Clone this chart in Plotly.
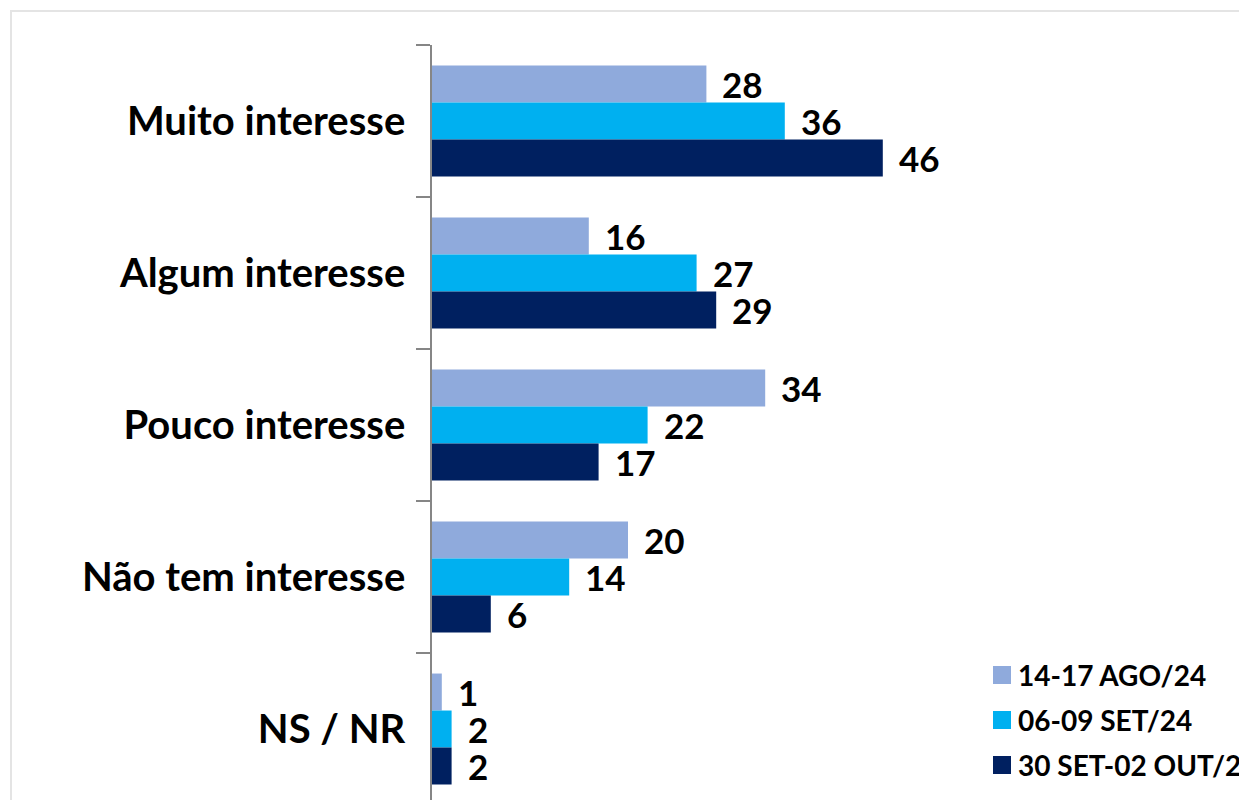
import plotly.graph_objects as go

categories = ["Muito interesse", "Algum interesse", "Pouco interesse", "Não tem interesse", "NS / NR"]
series_names = ["14-17 AGO/24", "06-09 SET/24", "30 SET-02 OUT/24"]
ago_values = [28, 16, 34, 20, 1]
set_values = [36, 27, 22, 14, 2]
out_values = [46, 29, 17, 6, 2]
colors = ["#8FAADC", "#00B0F0", "#002060"]

all_values = [ago_values, set_values, out_values]
FONT = "Lato"

# page body has an 8px margin, so everything is placed 8px up/left
OFF = 8
# plot area in pixels (figure coordinates)
L, T, W, H = 432 - OFF, 45 - OFF, 784, 755


def px_x(p):
    return (p - OFF - L) / W


def px_y(p):
    return (T + H - (p - OFF)) / H


fig = go.Figure()
for name, vals, col in zip(series_names, all_values, colors):
    fig.add_trace(go.Bar(
        y=categories, x=vals, name=name, orientation="h",
        marker=dict(color=col, line=dict(width=0)),
        showlegend=False,
    ))

# value labels next to the bars
shifts = [37, 0, -37]
for vals, dy in zip(all_values, shifts):
    for cat, v in zip(categories, vals):
        fig.add_annotation(
            x=v, y=cat, text=str(v), showarrow=False,
            xanchor="left", yanchor="middle", xshift=14, yshift=dy,
            font=dict(family=FONT, size=35, color="#000000", weight="bold"),
        )

# legend drawn by hand (bigger squares than plotly's legend)
leg_y = [675, 720, 765]
for name, col, yc in zip(series_names, colors, leg_y):
    fig.add_shape(
        type="rect", xref="paper", yref="paper",
        x0=px_x(993), x1=px_x(1011), y0=px_y(yc + 9), y1=px_y(yc - 9),
        fillcolor=col, line=dict(width=0),
    )
    fig.add_annotation(
        xref="paper", yref="paper", x=px_x(1016), y=px_y(yc),
        text=name, showarrow=False, xanchor="left", yanchor="middle",
        font=dict(family=FONT, size=28, color="#000000", weight="bold"),
    )

# light frame around the chart
fig.add_shape(
    type="rect", xref="paper", yref="paper", layer="below",
    x0=px_x(11), x1=px_x(1300), y0=px_y(900), y1=px_y(11),
    line=dict(color="#E4E4E4", width=2),
)

fig.update_layout(
    width=1247, height=800,
    margin=dict(l=L, r=1247 - L - W, t=T, b=800 - T - H, autoexpand=False),
    barmode="group", bargap=0.27, bargroupgap=0,
    plot_bgcolor="white", paper_bgcolor="white",
    showlegend=False,
)
fig.update_xaxes(range=[0, 80], visible=False, showgrid=False)
fig.update_yaxes(
    range=[4.467, -0.5], showgrid=False, zeroline=False,
    showline=True, linecolor="#868686", linewidth=1.5,
    ticks="outside", tickson="boundaries", ticklen=14,
    tickcolor="#868686", tickwidth=1.5, ticklabelstandoff=17,
    tickfont=dict(family=FONT, size=40, color="#000000", weight="bold"),
)

fig.write_html("out.html")
